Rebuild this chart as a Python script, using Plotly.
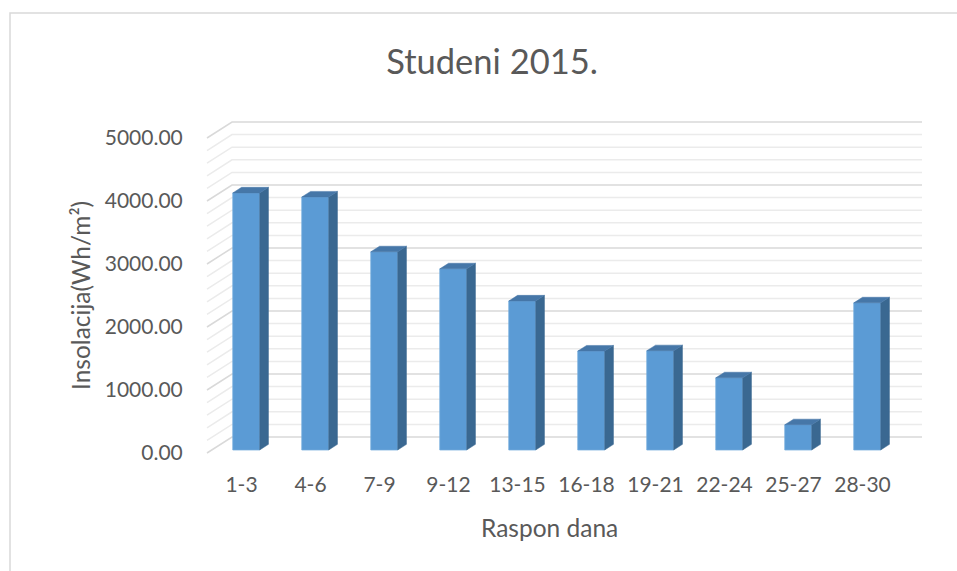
import plotly.graph_objects as go

categories = ['1-3', '4-6', '7-9', '9-12', '13-15', '16-18', '19-21', '22-24', '25-27', '28-30']
insolation = [4080, 4015, 3145, 2875, 2365, 1570, 1575, 1145, 400, 2335]
y_ticks = [0, 1000, 2000, 3000, 4000, 5000]
y_tick_labels = ['0.00', '1000.00', '2000.00', '3000.00', '4000.00', '5000.00']
grid_step = 200

# fake 3d: going back in depth shifts right and up (axis units per unit depth)
DX = 25 / 69
DY = 16 / 0.063
D_FRONT, D_BACK = 0.19, 0.54
BAR_W = 0.39
FONT = 'Lato'
GREY = '#595959'


def proj(u, d, v):
    return u + DX * d, v + DY * d


def add_pt(xs, ys, u, d, v):
    x, y = proj(u, d, v)
    xs.append(x)
    ys.append(y)


# walls with gridlines (side wall slanted, back wall flat) -> shapes under the bars
grid_shapes = []
for v in range(0, y_ticks[-1] + 1, grid_step):
    pts = [proj(0, 0, v), proj(0, 1, v), proj(len(categories), 1, v)]
    path = 'M' + ' L'.join(f'{x},{y}' for x, y in pts)
    color = '#D9D9D9' if v % 1000 == 0 else '#EBEBEB'
    grid_shapes.append({'type': 'path', 'path': path, 'xref': 'x', 'yref': 'y',
                        'layer': 'below', 'line': {'color': color, 'width': 1.5}})

fig = go.Figure()

# side and top faces of the columns
side_x, side_y, top_x, top_y = [], [], [], []
for i, v in enumerate(insolation):
    ul = i + 0.5 - BAR_W / 2
    ur = i + 0.5 + BAR_W / 2
    for d, h in [(D_FRONT, 0), (D_BACK, 0), (D_BACK, v), (D_FRONT, v), (D_FRONT, 0)]:
        add_pt(side_x, side_y, ur, d, h)
    side_x.append(None)
    side_y.append(None)
    for u, d in [(ul, D_FRONT), (ur, D_FRONT), (ur, D_BACK), (ul, D_BACK), (ul, D_FRONT)]:
        add_pt(top_x, top_y, u, d, v)
    top_x.append(None)
    top_y.append(None)

fig.add_trace(go.Scatter(x=side_x, y=side_y, mode='lines', fill='toself', fillcolor='#3A6891',
                         line={'color': '#3A6891', 'width': 0.5}, hoverinfo='skip', showlegend=False))
fig.add_trace(go.Scatter(x=top_x, y=top_y, mode='lines', fill='toself', fillcolor='#4677A8',
                         line={'color': '#4677A8', 'width': 0.5}, hoverinfo='skip', showlegend=False))

# front faces
fig.add_trace(go.Bar(x=[i + 0.5 + DX * D_FRONT for i in range(len(categories))],
                     y=insolation, base=DY * D_FRONT, width=BAR_W,
                     marker={'color': '#5B9BD5', 'line': {'color': '#6FA8DC', 'width': 0.8}},
                     customdata=categories,
                     hovertemplate='%{customdata}: %{y:.2f}<extra></extra>',
                     showlegend=False))

border = {'type': 'rect', 'xref': 'paper', 'yref': 'paper',
          'x0': (10 - 200) / 730, 'x1': (962 - 200) / 730,
          'y0': (470 - 576) / 370, 'y1': (470 - 13) / 370,
          'line': {'color': '#D9D9D9', 'width': 1.5}}

fig.update_layout(
    width=957, height=571,
    margin={'l': 200, 'r': 27, 't': 100, 'b': 101},
    paper_bgcolor='white', plot_bgcolor='white',
    font={'family': FONT, 'color': GREY, 'size': 21},
    title={'text': 'Studeni 2015.', 'x': 492 / 957, 'xanchor': 'center',
           'y': 1 - 62 / 571, 'yanchor': 'middle',
           'font': {'family': FONT, 'size': 34.5, 'color': GREY}},
    shapes=grid_shapes + [border],
    annotations=[
        {'text': 'Insolacija(Wh/m²)', 'xref': 'paper', 'yref': 'paper',
         'x': (80 - 200) / 730, 'y': (470 - 296) / 370, 'textangle': -90,
         'xanchor': 'center', 'yanchor': 'middle',
         'showarrow': False, 'font': {'size': 24.5, 'color': GREY}},
        {'text': 'Raspon dana', 'xref': 'paper', 'yref': 'paper',
         'x': (549 - 200) / 730, 'y': (470 - 527) / 370,
         'xanchor': 'center', 'yanchor': 'middle',
         'showarrow': False, 'font': {'size': 24.5, 'color': GREY}},
    ],
)
fig.update_xaxes(range=[-7 / 69, 723 / 69], tickvals=[i + 0.5 for i in range(len(categories))],
                 ticktext=categories, showgrid=False, zeroline=False, showline=False, ticks='')
fig.update_yaxes(range=[(453 - 470) / 0.063, (453 - 100) / 0.063], tickvals=y_ticks,
                 ticktext=y_tick_labels, showgrid=False, zeroline=False, showline=False,
                 ticks='outside', ticklen=12, tickcolor='rgba(0,0,0,0)')

fig.write_html('out.html', config={'displayModeBar': False},
               post_script="document.body.style.margin='0';")
